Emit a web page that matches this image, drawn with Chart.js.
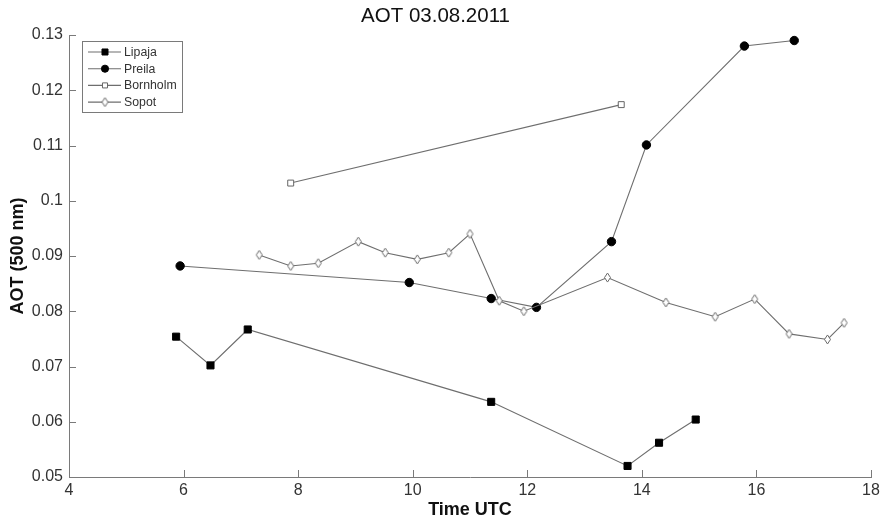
<!DOCTYPE html>
<html>
<head>
<meta charset="utf-8">
<title>AOT 03.08.2011</title>
<script src="https://cdn.jsdelivr.net/npm/chart.js@4/dist/chart.umd.min.js"></script>
<style>
  html, body { margin: 0; padding: 0; background: #fff; }
  #wrap { width: 885px; height: 521px; }
</style>
</head>
<body>
<div id="wrap"><canvas id="c" width="885" height="521"></canvas></div>
<script>
// Aerosol optical thickness at 500 nm, 3 August 2011, per station (time in hours UTC)
const lipajaTime = [5.87, 6.47, 7.12, 11.37, 13.75, 14.30, 14.94];
const lipajaAot  = [0.0754, 0.0702, 0.0767, 0.0636, 0.0520, 0.0562, 0.0604];

const preilaTime = [5.94, 9.94, 11.37, 12.16, 13.47, 14.08, 15.79, 16.66];
const preilaAot  = [0.0882, 0.0852, 0.0823, 0.0807, 0.0926, 0.1101, 0.1280, 0.1290];

const bornholmTime = [7.87, 13.64];
const bornholmAot  = [0.1032, 0.1174];

const sopotTime = [7.32, 7.87, 8.35, 9.05, 9.52, 10.08, 10.63, 11.00, 11.51, 11.94,
                   13.40, 14.42, 15.28, 15.97, 16.57, 17.24, 17.53];
const sopotAot  = [0.0902, 0.0882, 0.0887, 0.0926, 0.0906, 0.0894, 0.0906, 0.0940, 0.0819, 0.0800,
                   0.0861, 0.0816, 0.0790, 0.0822, 0.0759, 0.0749, 0.0779];

const stationNames = ['Lipaja', 'Preila', 'Bornholm', 'Sopot'];
const xTicks = [4, 6, 8, 10, 12, 14, 16, 18];
const yTicks = [0.05, 0.06, 0.07, 0.08, 0.09, 0.10, 0.11, 0.12, 0.13];

const toPoints = (xs, ys) => xs.map((x, i) => ({ x: x, y: ys[i] }));

const LINE = '#6e6e6e';
const AXIS = '#7a7a7a';
const TEXT = '#333333';
const FONT = '"Liberation Sans", Arial, Helvetica, sans-serif';

// Open diamond marker, a little taller than wide
function makeDiamond() {
  const w = 9, h = 11;
  const c = document.createElement('canvas');
  c.width = w; c.height = h;
  const g = c.getContext('2d');
  g.fillStyle = '#fff';
  g.strokeStyle = '#666';
  g.lineWidth = 1;
  g.beginPath();
  g.moveTo(w / 2, 1);
  g.lineTo(w - 1.5, h / 2);
  g.lineTo(w / 2, h - 1);
  g.lineTo(1.5, h / 2);
  g.closePath();
  g.fill();
  g.stroke();
  return c;
}
const diamond = makeDiamond();

const datasets = [
  { label: stationNames[0], data: toPoints(lipajaTime, lipajaAot),
    pointStyle: 'rect', pointRadius: 5, backgroundColor: '#000', pointBorderColor: '#000', pointBorderWidth: 1, order: 4 },
  { label: stationNames[1], data: toPoints(preilaTime, preilaAot),
    pointStyle: 'circle', pointRadius: 4.2, backgroundColor: '#000', pointBorderColor: '#000', pointBorderWidth: 1, order: 3 },
  { label: stationNames[2], data: toPoints(bornholmTime, bornholmAot),
    pointStyle: 'rect', pointRadius: 4.2, backgroundColor: '#fff', pointBorderColor: '#666', pointBorderWidth: 1, order: 2 },
  { label: stationNames[3], data: toPoints(sopotTime, sopotAot),
    pointStyle: diamond, pointRadius: 4.5, backgroundColor: '#fff', pointBorderColor: '#666', pointBorderWidth: 1, order: 1 }
].map(d => Object.assign({
  borderColor: LINE, borderWidth: 1.1, showLine: true, tension: 0,
  pointBackgroundColor: d.backgroundColor, pointHoverRadius: d.pointRadius
}, d));

// Inward tick marks on the left and bottom axes
const inwardTicks = {
  id: 'inwardTicks',
  afterDraw(chart) {
    const { ctx, chartArea, scales } = chart;
    ctx.save();
    ctx.strokeStyle = AXIS;
    ctx.lineWidth = 1;
    ctx.beginPath();
    xTicks.forEach(v => {
      const px = Math.round(scales.x.getPixelForValue(v)) + 0.5;
      ctx.moveTo(px, chartArea.bottom);
      ctx.lineTo(px, chartArea.bottom - 7);
    });
    yTicks.forEach(v => {
      const py = Math.round(scales.y.getPixelForValue(v)) + 0.5;
      ctx.moveTo(chartArea.left, py);
      ctx.lineTo(chartArea.left + 7, py);
    });
    ctx.stroke();
    ctx.restore();
  }
};

// Boxed legend in the upper-left corner: line sample with marker, then name
const boxLegend = {
  id: 'boxLegend',
  afterDraw(chart) {
    const { ctx, chartArea } = chart;
    const bx = chartArea.left + 13.5, by = chartArea.top + 6.5, bw = 100, bh = 71;
    ctx.save();
    ctx.fillStyle = '#fff';
    ctx.fillRect(bx, by, bw, bh);
    ctx.strokeStyle = AXIS;
    ctx.lineWidth = 1;
    ctx.strokeRect(bx, by, bw, bh);
    ctx.font = '12.3px ' + FONT;
    ctx.textBaseline = 'middle';
    ctx.textAlign = 'left';
    chart.data.datasets.forEach((ds, i) => {
      const y = by + 10.5 + i * 16.7;
      ctx.strokeStyle = LINE;
      ctx.lineWidth = 1.1;
      ctx.beginPath();
      ctx.moveTo(bx + 5.5, y);
      ctx.lineTo(bx + 38.5, y);
      ctx.stroke();
      ctx.fillStyle = ds.backgroundColor;
      ctx.strokeStyle = ds.pointBorderColor;
      ctx.lineWidth = 1;
      Chart.helpers.drawPoint(ctx, { pointStyle: ds.pointStyle, radius: ds.pointRadius * 0.85, borderWidth: 1, rotation: 0 }, bx + 22.5, y);
      ctx.fillStyle = TEXT;
      ctx.fillText(ds.label, bx + 41.5, y + 0.5);
    });
    ctx.restore();
  }
};

new Chart(document.getElementById('c'), {
  type: 'scatter',
  data: { datasets: datasets },
  options: {
    responsive: false,
    animation: false,
    events: [],
    layout: { padding: { left: 0, right: 14, top: 0, bottom: 0 } },
    plugins: {
      legend: { display: false },
      tooltip: { enabled: false },
      title: {
        display: true,
        text: 'AOT 03.08.2011',
        color: '#111',
        font: { family: FONT, size: 20.5, weight: 'normal' },
        padding: { top: 4, bottom: 6.4 }
      }
    },
    scales: {
      x: {
        type: 'linear',
        min: 4, max: 18,
        afterFit(scale) { scale.height = 44; },
        afterBuildTicks(scale) { scale.ticks = xTicks.map(v => ({ value: v })); },
        grid: { display: false, drawTicks: false },
        border: { display: true, color: AXIS, width: 1 },
        ticks: { color: TEXT, padding: 4, maxRotation: 0, autoSkip: false,
                 font: { family: FONT, size: 16 }, callback: v => String(v) },
        title: { display: true, text: 'Time UTC', color: '#111',
                 font: { family: FONT, size: 18, weight: 'bold' }, padding: { top: 0, bottom: 0 } }
      },
      y: {
        type: 'linear',
        min: 0.05, max: 0.13,
        afterFit(scale) { scale.width = 69; },
        afterBuildTicks(scale) { scale.ticks = yTicks.map(v => ({ value: v })); },
        grid: { display: false, drawTicks: false },
        border: { display: true, color: AXIS, width: 1 },
        ticks: { color: TEXT, padding: 6, autoSkip: false,
                 font: { family: FONT, size: 16 }, callback: v => String(+v.toFixed(2)) },
        title: { display: true, text: 'AOT (500 nm)', color: '#111',
                 font: { family: FONT, size: 18, weight: 'bold' }, padding: { top: 7, bottom: 0 } }
      }
    }
  },
  plugins: [inwardTicks, boxLegend]
});
</script>
</body>
</html>
